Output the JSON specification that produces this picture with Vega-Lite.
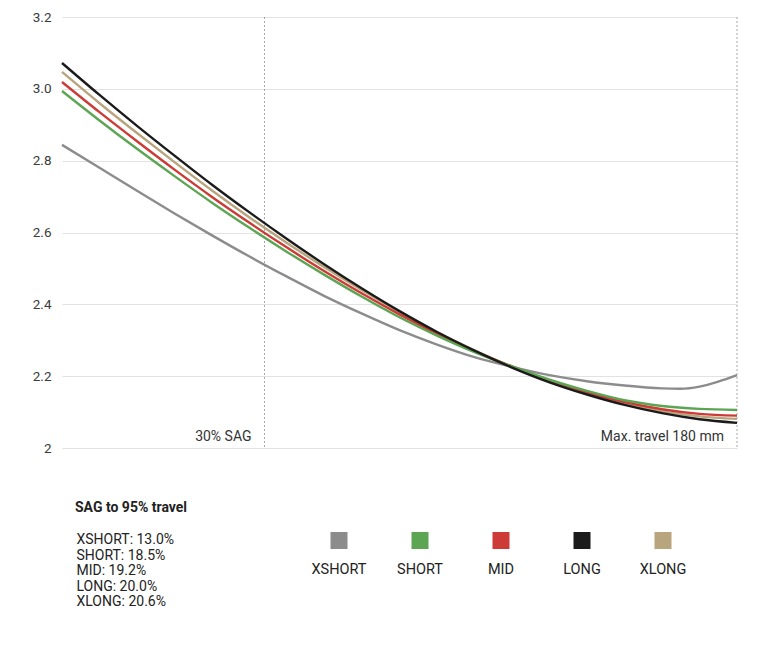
{
  "$schema": "https://vega.github.io/schema/vega-lite/v6.json",
  "width": 675,
  "height": 431,
  "padding": {"left": 22, "top": 10, "right": 0, "bottom": 0},
  "background": "white",
  "config": {
    "view": {"stroke": null},
    "font": "Roboto",
    "legend": {"padding": 0}
  },
  "datasets": {
    "markers": [
      {"t": 54, "label": "30% SAG"},
      {"t": 180, "label": "Max. travel 180 mm"}
    ],
    "sag": [
      {"series": "XSHORT", "sag": "XSHORT: 13.0%"},
      {"series": "SHORT", "sag": "SHORT: 18.5%"},
      {"series": "MID", "sag": "MID: 19.2%"},
      {"series": "LONG", "sag": "LONG: 20.0%"},
      {"series": "XLONG", "sag": "XLONG: 20.6%"}
    ],
    "curves": [
      {"series": "XSHORT", "t": 0, "v": 2.844},
      {"series": "XSHORT", "t": 10, "v": 2.780},
      {"series": "XSHORT", "t": 20, "v": 2.716},
      {"series": "XSHORT", "t": 30, "v": 2.653},
      {"series": "XSHORT", "t": 40, "v": 2.592},
      {"series": "XSHORT", "t": 50, "v": 2.533},
      {"series": "XSHORT", "t": 60, "v": 2.477},
      {"series": "XSHORT", "t": 70, "v": 2.423},
      {"series": "XSHORT", "t": 80, "v": 2.374},
      {"series": "XSHORT", "t": 90, "v": 2.328},
      {"series": "XSHORT", "t": 100, "v": 2.288},
      {"series": "XSHORT", "t": 110, "v": 2.253},
      {"series": "XSHORT", "t": 120, "v": 2.226},
      {"series": "XSHORT", "t": 130, "v": 2.203},
      {"series": "XSHORT", "t": 140, "v": 2.186},
      {"series": "XSHORT", "t": 150, "v": 2.174},
      {"series": "XSHORT", "t": 160, "v": 2.166},
      {"series": "XSHORT", "t": 165, "v": 2.165},
      {"series": "XSHORT", "t": 170, "v": 2.171},
      {"series": "XSHORT", "t": 175, "v": 2.185},
      {"series": "XSHORT", "t": 180, "v": 2.203},
      {"series": "XLONG", "t": 0, "v": 3.047},
      {"series": "XLONG", "t": 10, "v": 2.960},
      {"series": "XLONG", "t": 20, "v": 2.877},
      {"series": "XLONG", "t": 30, "v": 2.796},
      {"series": "XLONG", "t": 40, "v": 2.717},
      {"series": "XLONG", "t": 50, "v": 2.642},
      {"series": "XLONG", "t": 60, "v": 2.571},
      {"series": "XLONG", "t": 70, "v": 2.503},
      {"series": "XLONG", "t": 80, "v": 2.439},
      {"series": "XLONG", "t": 90, "v": 2.379},
      {"series": "XLONG", "t": 100, "v": 2.323},
      {"series": "XLONG", "t": 110, "v": 2.272},
      {"series": "XLONG", "t": 120, "v": 2.226},
      {"series": "XLONG", "t": 130, "v": 2.186},
      {"series": "XLONG", "t": 140, "v": 2.152},
      {"series": "XLONG", "t": 150, "v": 2.124},
      {"series": "XLONG", "t": 160, "v": 2.102},
      {"series": "XLONG", "t": 170, "v": 2.088},
      {"series": "XLONG", "t": 180, "v": 2.081},
      {"series": "MID", "t": 0, "v": 3.019},
      {"series": "MID", "t": 10, "v": 2.935},
      {"series": "MID", "t": 20, "v": 2.854},
      {"series": "MID", "t": 30, "v": 2.775},
      {"series": "MID", "t": 40, "v": 2.699},
      {"series": "MID", "t": 50, "v": 2.627},
      {"series": "MID", "t": 60, "v": 2.558},
      {"series": "MID", "t": 70, "v": 2.492},
      {"series": "MID", "t": 80, "v": 2.430},
      {"series": "MID", "t": 90, "v": 2.372},
      {"series": "MID", "t": 100, "v": 2.318},
      {"series": "MID", "t": 110, "v": 2.270},
      {"series": "MID", "t": 120, "v": 2.227},
      {"series": "MID", "t": 130, "v": 2.188},
      {"series": "MID", "t": 140, "v": 2.155},
      {"series": "MID", "t": 150, "v": 2.128},
      {"series": "MID", "t": 160, "v": 2.108},
      {"series": "MID", "t": 170, "v": 2.095},
      {"series": "MID", "t": 180, "v": 2.090},
      {"series": "SHORT", "t": 0, "v": 2.994},
      {"series": "SHORT", "t": 10, "v": 2.912},
      {"series": "SHORT", "t": 20, "v": 2.833},
      {"series": "SHORT", "t": 30, "v": 2.757},
      {"series": "SHORT", "t": 40, "v": 2.683},
      {"series": "SHORT", "t": 50, "v": 2.613},
      {"series": "SHORT", "t": 60, "v": 2.546},
      {"series": "SHORT", "t": 70, "v": 2.482},
      {"series": "SHORT", "t": 80, "v": 2.421},
      {"series": "SHORT", "t": 90, "v": 2.364},
      {"series": "SHORT", "t": 100, "v": 2.313},
      {"series": "SHORT", "t": 110, "v": 2.267},
      {"series": "SHORT", "t": 120, "v": 2.227},
      {"series": "SHORT", "t": 130, "v": 2.190},
      {"series": "SHORT", "t": 140, "v": 2.159},
      {"series": "SHORT", "t": 150, "v": 2.133},
      {"series": "SHORT", "t": 160, "v": 2.117},
      {"series": "SHORT", "t": 170, "v": 2.109},
      {"series": "SHORT", "t": 180, "v": 2.106},
      {"series": "LONG", "t": 0, "v": 3.072},
      {"series": "LONG", "t": 10, "v": 2.983},
      {"series": "LONG", "t": 20, "v": 2.897},
      {"series": "LONG", "t": 30, "v": 2.814},
      {"series": "LONG", "t": 40, "v": 2.733},
      {"series": "LONG", "t": 50, "v": 2.656},
      {"series": "LONG", "t": 60, "v": 2.582},
      {"series": "LONG", "t": 70, "v": 2.511},
      {"series": "LONG", "t": 80, "v": 2.444},
      {"series": "LONG", "t": 90, "v": 2.381},
      {"series": "LONG", "t": 100, "v": 2.323},
      {"series": "LONG", "t": 110, "v": 2.271},
      {"series": "LONG", "t": 120, "v": 2.224},
      {"series": "LONG", "t": 130, "v": 2.183},
      {"series": "LONG", "t": 140, "v": 2.149},
      {"series": "LONG", "t": 150, "v": 2.120},
      {"series": "LONG", "t": 160, "v": 2.097},
      {"series": "LONG", "t": 170, "v": 2.080},
      {"series": "LONG", "t": 180, "v": 2.070}
    ]
  },
  "layer": [
    {
      "data": {"name": "markers"},
      "mark": {"type": "rule", "strokeDash": [2, 2], "color": "#a8a8a8", "strokeWidth": 1},
      "encoding": {
        "x": {"field": "t", "type": "quantitative", "scale": {"domain": [0, 180], "nice": false}, "axis": null}
      }
    },
    {
      "data": {"name": "curves"},
      "mark": {"type": "line", "interpolate": "monotone", "strokeWidth": 2.4},
      "encoding": {
        "x": {"field": "t", "type": "quantitative", "scale": {"domain": [0, 180], "nice": false}, "axis": null},
        "y": {
          "field": "v",
          "type": "quantitative",
          "scale": {"domain": [2, 3.2], "nice": false, "zero": false},
          "axis": {
            "title": null,
            "values": [2, 2.2, 2.4, 2.6, 2.8, 3.0, 3.2],
            "labelExpr": "datum.value == 2 ? '2' : format(datum.value, '.1f')",
            "domain": false,
            "ticks": false,
            "labelPadding": 11,
            "labelFontSize": 13.5,
            "labelColor": "#3a3a3a",
            "gridColor": "#e2e2e2",
            "gridWidth": 1,
            "minExtent": 40,
            "maxExtent": 40
          }
        },
        "color": {
          "field": "series",
          "type": "nominal",
          "scale": {
            "domain": ["XSHORT", "XLONG", "MID", "SHORT", "LONG"],
            "range": ["#8c8c8c", "#b8a47d", "#cc3b36", "#5ca553", "#1b1b1b"]
          },
          "legend": null
        }
      }
    },
    {
      "data": {"name": "markers"},
      "mark": {"type": "text", "align": "right", "baseline": "bottom", "dx": -13, "dy": -4, "fontSize": 14, "color": "#333333"},
      "encoding": {
        "x": {"field": "t", "type": "quantitative"},
        "y": {"datum": 2},
        "text": {"field": "label"}
      }
    },
    {
      "data": {"name": "sag"},
      "mark": {"type": "point", "shape": "square", "filled": true, "size": 0},
      "encoding": {
        "fill": {
          "field": "series",
          "type": "nominal",
          "scale": {
            "domain": ["XSHORT", "SHORT", "MID", "LONG", "XLONG"],
            "range": ["#8c8c8c", "#5ca553", "#cc3b36", "#1b1b1b", "#b8a47d"]
          },
          "legend": {
            "orient": "none",
            "legendX": 268.5,
            "legendY": 515,
            "direction": "horizontal",
            "columns": 5,
            "title": null,
            "symbolType": "M-4.74,0M-1,-1H1V1H-1ZM4.74,0",
            "symbolSize": 289,
            "symbolStrokeWidth": 0,
            "symbolOpacity": 1,
            "labelAlign": "center",
            "labelOffset": -8.5,
            "labelFontSize": 14.5,
            "labelColor": "#222222",
            "columnPadding": 0,
            "encode": {"labels": {"update": {"dy": {"value": 29}}}}
          }
        }
      }
    },
    {
      "data": {"name": "sag"},
      "mark": {"type": "point", "size": 0, "opacity": 0},
      "encoding": {
        "shape": {
          "field": "sag",
          "type": "nominal",
          "scale": {"domain": ["XSHORT: 13.0%", "SHORT: 18.5%", "MID: 19.2%", "LONG: 20.0%", "XLONG: 20.6%"]},
          "legend": {
            "orient": "none",
            "legendX": 13,
            "legendY": 484,
            "direction": "vertical",
            "title": "SAG to 95% travel",
            "titleFontSize": 14,
            "titleFontWeight": "bold",
            "titleColor": "#222222",
            "titlePadding": 18,
            "symbolSize": 0,
            "symbolOpacity": 0,
            "labelOffset": -12.5,
            "labelFontSize": 14,
            "labelColor": "#222222",
            "rowPadding": 1.5
          }
        }
      }
    }
  ]
}
